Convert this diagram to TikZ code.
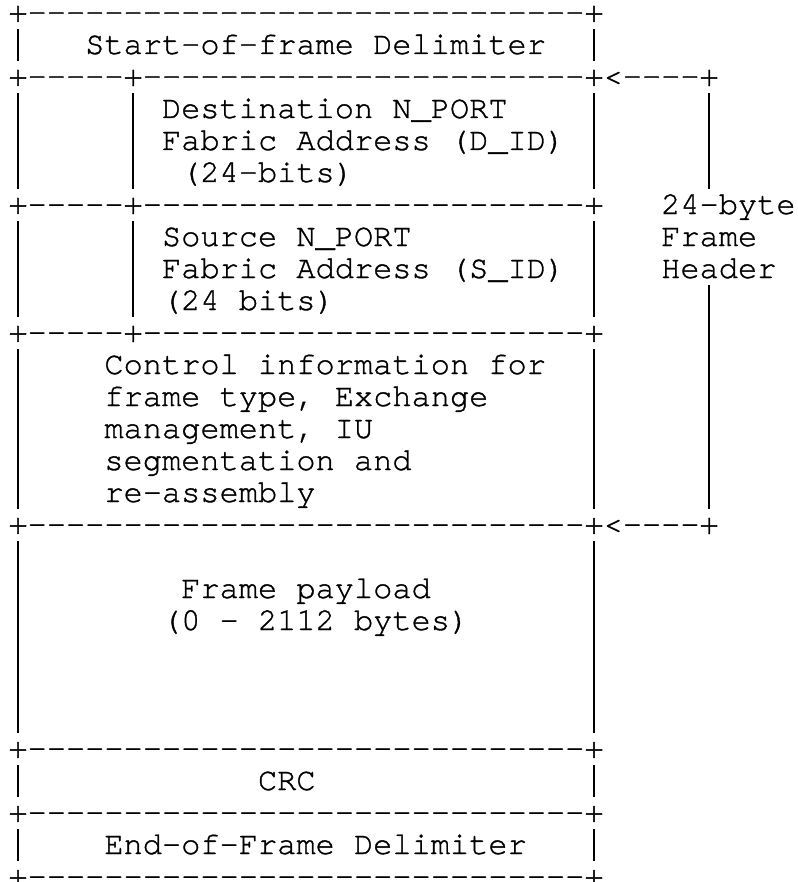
\documentclass[tikz,border=0pt]{standalone}
\usepackage{fontspec}
\newfontfamily\asciifont[Ligatures=TeXOff,FakeBold=1.1]{texgyrecursor-regular.otf}
\newcommand\vbarx{\makebox[9.6pt]{\rule[-3.5pt]{0.9pt}{16pt}}}
\tikzset{
  asc/.style={anchor=base west, inner sep=0pt, outer sep=0pt, text=black,
    font={\asciifont\fontsize{16pt}{16pt}\selectfont}}
}
\begin{document}
\begin{tikzpicture}[x=0.5pt,y=-0.5pt]
\fill[white] (0,0) rectangle (797,882);
\useasboundingbox (0,0) rectangle (797,882);
\node[asc] (r1)  at (8.4,22)  {+-----------------------------+};
\node[asc] (r2)  at (8.4,54)  {\vbarx~~~Start-of-frame~Delimiter~~\vbarx};
\node[asc] (r3)  at (8.4,86)  {+-----+-----------------------+<----+};
\node[asc] (r4)  at (8.4,118) {\vbarx~~~~~\vbarx~Destination~N\_PORT~~~~\vbarx~~~~~\vbarx};
\node[asc] (r5)  at (8.4,150) {\vbarx~~~~~\vbarx~Fabric~Address~(D\_ID)~\vbarx~~~~~\vbarx};
\node[asc] (r6)  at (8.4,182) {\vbarx~~~~~\vbarx~~(24-bits)~~~~~~~~~~~~\vbarx~~~~~\vbarx};
\node[asc] (r7)  at (8.4,214) {+-----+-----------------------+~~~24-byte};
\node[asc] (r8)  at (8.4,246) {\vbarx~~~~~\vbarx~Source~N\_PORT~~~~~~~~~\vbarx~~~Frame};
\node[asc] (r9)  at (8.4,278) {\vbarx~~~~~\vbarx~Fabric~Address~(S\_ID)~\vbarx~~~Header};
\node[asc] (r10) at (8.4,310) {\vbarx~~~~~\vbarx~(24~bits)~~~~~~~~~~~~~\vbarx~~~~~\vbarx};
\node[asc] (r11) at (8.4,342) {+-----+-----------------------+~~~~~\vbarx};
\node[asc] (r12) at (8.4,374) {\vbarx~~~~Control~information~for~~\vbarx~~~~~\vbarx};
\node[asc] (r13) at (8.4,406) {\vbarx~~~~frame~type,~Exchange~~~~~\vbarx~~~~~\vbarx};
\node[asc] (r14) at (8.4,438) {\vbarx~~~~management,~IU~~~~~~~~~~~\vbarx~~~~~\vbarx};
\node[asc] (r15) at (8.4,470) {\vbarx~~~~segmentation~and~~~~~~~~~\vbarx~~~~~\vbarx};
\node[asc] (r16) at (8.4,502) {\vbarx~~~~re-assembly~~~~~~~~~~~~~~\vbarx~~~~~\vbarx};
\node[asc] (r17) at (8.4,534) {+-----------------------------+<----+};
\node[asc] (r18) at (8.4,566) {\vbarx~~~~~~~~~~~~~~~~~~~~~~~~~~~~~\vbarx};
\node[asc] (r19) at (8.4,598) {\vbarx~~~~~~~~Frame~payload~~~~~~~~\vbarx};
\node[asc] (r20) at (8.4,630) {\vbarx~~~~~~~(0~–~2112~bytes)~~~~~~\vbarx};
\node[asc] (r21) at (8.4,662) {\vbarx~~~~~~~~~~~~~~~~~~~~~~~~~~~~~\vbarx};
\node[asc] (r22) at (8.4,694) {\vbarx~~~~~~~~~~~~~~~~~~~~~~~~~~~~~\vbarx};
\node[asc] (r23) at (8.4,726) {\vbarx~~~~~~~~~~~~~~~~~~~~~~~~~~~~~\vbarx};
\node[asc] (r24) at (8.4,758) {+-----------------------------+};
\node[asc] (r25) at (8.4,790) {\vbarx~~~~~~~~~~~~CRC~~~~~~~~~~~~~~\vbarx};
\node[asc] (r26) at (8.4,822) {+-----------------------------+};
\node[asc] (r27) at (8.4,854) {\vbarx~~~~End-of-Frame~Delimiter~~~\vbarx};
\node[asc] (r28) at (8.4,886) {+-----------------------------+};
\end{tikzpicture}
\end{document}
